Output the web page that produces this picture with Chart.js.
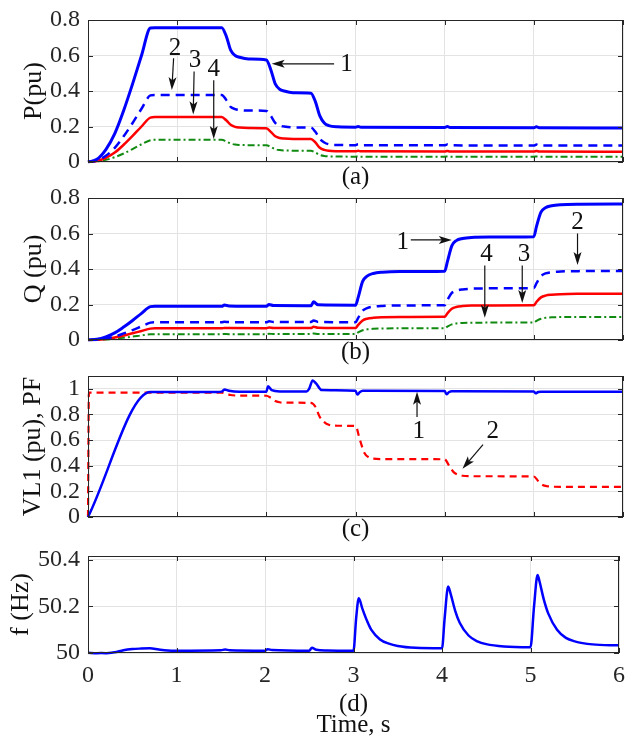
<!DOCTYPE html>
<html>
<head>
<meta charset="utf-8">
<script src="https://cdn.jsdelivr.net/npm/chart.js@4.4.1/dist/chart.umd.min.js"></script>
<style>
    body { margin: 0; background: #fff; }
    #wrap { position: relative; width: 633px; height: 737px; }
    #wrap canvas { position: absolute; left: 0; }
</style>
</head>
<body>
<div id="wrap">
    <canvas id="p_chart" width="633" height="192" style="top:0px"></canvas>
    <canvas id="q_chart" width="633" height="190" style="top:178px"></canvas>
    <canvas id="v_chart" width="633" height="190" style="top:356px"></canvas>
    <canvas id="f_chart" width="633" height="201" style="top:536px"></canvas>
</div>
<script>
// (a) active power
const tP = [0, 0.1, 0.2, 0.3, 0.4, 0.5, 0.6, 0.7, 0.75, 1.5, 1.55, 1.6, 1.65, 1.7, 1.8, 2.0, 2.05, 2.1, 2.15, 2.2, 2.3, 2.5, 2.55, 2.6, 2.65, 2.7, 2.8, 3.0, 3.03, 3.06, 4.0, 4.03, 4.06, 5.0, 5.03, 5.06, 6.0]
const p1 = [0, 0.015, 0.07, 0.16, 0.29, 0.44, 0.6, 0.755, 0.757, 0.757, 0.71, 0.63, 0.6, 0.59, 0.58, 0.575, 0.52, 0.44, 0.41, 0.4, 0.39, 0.388, 0.34, 0.26, 0.22, 0.205, 0.198, 0.196, 0.2, 0.196, 0.194, 0.2, 0.194, 0.193, 0.199, 0.193, 0.192]
const p2 = [0, 0.008, 0.035, 0.08, 0.145, 0.22, 0.3, 0.375, 0.378, 0.378, 0.35, 0.31, 0.298, 0.293, 0.29, 0.288, 0.26, 0.22, 0.205, 0.2, 0.195, 0.194, 0.17, 0.13, 0.11, 0.1, 0.096, 0.095, 0.1, 0.095, 0.094, 0.099, 0.094, 0.093, 0.098, 0.093, 0.093]
const p3 = [0, 0.005, 0.023, 0.053, 0.097, 0.147, 0.2, 0.25, 0.253, 0.253, 0.235, 0.21, 0.198, 0.194, 0.192, 0.19, 0.17, 0.145, 0.135, 0.132, 0.13, 0.13, 0.11, 0.08, 0.068, 0.063, 0.061, 0.06, 0.063, 0.06, 0.059, 0.062, 0.059, 0.059, 0.062, 0.059, 0.058]
const p4 = [0, 0.003, 0.012, 0.027, 0.048, 0.073, 0.1, 0.123, 0.125, 0.125, 0.116, 0.104, 0.098, 0.096, 0.095, 0.094, 0.085, 0.072, 0.067, 0.065, 0.064, 0.063, 0.053, 0.04, 0.034, 0.032, 0.031, 0.03, 0.032, 0.03, 0.03, 0.031, 0.03, 0.03, 0.031, 0.03, 0.03]

// (b) reactive power
const tQ = [0, 0.1, 0.2, 0.3, 0.4, 0.5, 0.6, 0.7, 0.75, 1.5, 1.53, 1.58, 2.0, 2.03, 2.08, 2.5, 2.53, 2.58, 3.0, 3.03, 3.08, 3.13, 3.2, 3.3, 3.5, 4.0, 4.03, 4.08, 4.13, 4.2, 4.3, 4.5, 5.0, 5.03, 5.08, 5.13, 5.2, 5.3, 5.5, 6.0]
const q1 = [0, 0.004, 0.018, 0.04, 0.073, 0.11, 0.15, 0.188, 0.19, 0.19, 0.197, 0.192, 0.19, 0.2, 0.194, 0.193, 0.215, 0.198, 0.196, 0.24, 0.33, 0.36, 0.375, 0.382, 0.386, 0.388, 0.44, 0.53, 0.56, 0.572, 0.578, 0.58, 0.582, 0.64, 0.72, 0.745, 0.756, 0.762, 0.765, 0.766]
const q2 = [0, 0.002, 0.009, 0.02, 0.037, 0.056, 0.077, 0.098, 0.1, 0.1, 0.103, 0.101, 0.1, 0.105, 0.102, 0.101, 0.11, 0.102, 0.1, 0.125, 0.165, 0.18, 0.188, 0.192, 0.195, 0.196, 0.225, 0.265, 0.278, 0.285, 0.289, 0.291, 0.292, 0.32, 0.36, 0.375, 0.382, 0.386, 0.388, 0.389]
const q3 = [0, 0.001, 0.006, 0.014, 0.025, 0.038, 0.051, 0.064, 0.066, 0.066, 0.068, 0.067, 0.066, 0.07, 0.068, 0.067, 0.075, 0.069, 0.067, 0.085, 0.11, 0.12, 0.125, 0.128, 0.13, 0.131, 0.15, 0.176, 0.186, 0.191, 0.194, 0.195, 0.196, 0.215, 0.24, 0.25, 0.255, 0.258, 0.26, 0.261]
const q4 = [0, 0.001, 0.003, 0.007, 0.013, 0.019, 0.026, 0.032, 0.033, 0.033, 0.034, 0.033, 0.033, 0.035, 0.034, 0.034, 0.037, 0.034, 0.034, 0.043, 0.055, 0.06, 0.063, 0.065, 0.066, 0.066, 0.075, 0.088, 0.093, 0.096, 0.097, 0.098, 0.098, 0.108, 0.12, 0.125, 0.128, 0.129, 0.13, 0.13]

// (c) voltage VL1 and power factor
const tV = [0, 0.7, 0.75, 1.45, 1.5, 1.53, 1.58, 1.7, 2.0, 2.02, 2.06, 2.15, 2.45, 2.48, 2.52, 2.56, 2.62, 3.0, 3.02, 3.05, 3.08, 4.0, 4.02, 4.05, 4.08, 5.0, 5.02, 5.05, 5.08, 6.0]
const vl1 = [0, 0.975, 0.975, 0.975, 0.978, 0.995, 0.985, 0.978, 0.978, 1.02, 0.99, 0.98, 0.98, 1.0, 1.065, 1.04, 0.99, 0.985, 0.955, 0.975, 0.985, 0.983, 0.958, 0.975, 0.982, 0.98, 0.965, 0.975, 0.978, 0.978]
const tF = [0, 0.01, 1.5, 1.55, 1.6, 1.65, 1.7, 2.0, 2.05, 2.1, 2.15, 2.2, 2.5, 2.55, 2.6, 2.65, 2.7, 2.8, 3.0, 3.05, 3.1, 3.15, 3.2, 3.3, 4.0, 4.05, 4.1, 4.15, 4.2, 4.3, 5.0, 5.05, 5.1, 5.15, 5.2, 5.3, 6.0]
const pf = [0, 0.97, 0.97, 0.962, 0.952, 0.948, 0.947, 0.946, 0.93, 0.905, 0.895, 0.892, 0.89, 0.86, 0.78, 0.74, 0.72, 0.712, 0.71, 0.6, 0.5, 0.465, 0.455, 0.452, 0.45, 0.4, 0.35, 0.33, 0.322, 0.318, 0.316, 0.28, 0.25, 0.24, 0.237, 0.235, 0.235]

// (d) frequency
const tf = [0, 0.1, 0.2, 0.3, 0.4, 0.5, 0.6, 0.7, 0.8, 0.9, 1.0, 1.5, 1.55, 1.6, 2.0, 2.03, 2.08, 2.5, 2.53, 2.58, 2.7, 3.0, 3.03, 3.06, 3.1, 3.15, 3.2, 3.3, 3.4, 3.5, 3.7, 4.0, 4.03, 4.07, 4.1, 4.15, 4.2, 4.3, 4.4, 4.5, 4.7, 5.0, 5.04, 5.08, 5.1, 5.15, 5.2, 5.3, 5.4, 5.5, 5.7, 6.0]
const freq = [50.001, 49.999, 49.999, 50.003, 50.012, 50.017, 50.019, 50.02, 50.015, 50.011, 50.01, 50.012, 50.015, 50.012, 50.01, 50.016, 50.013, 50.01, 50.022, 50.014, 50.011, 50.01, 50.15, 50.235, 50.19, 50.14, 50.1, 50.058, 50.04, 50.03, 50.022, 50.02, 50.15, 50.285, 50.25, 50.18, 50.13, 50.075, 50.05, 50.038, 50.028, 50.025, 50.2, 50.335, 50.31, 50.23, 50.17, 50.1, 50.065, 50.05, 50.037, 50.033]

const timeTicks = [0, 1, 2, 3, 4, 5, 6]

// arrow notes, in data units of each panel
const notesP = [
    { text: '1', lx: 2.9, ly: 0.55, x0: 2.76, y0: 0.553, x1: 2.06, y1: 0.553 },
    { text: '2', lx: 0.975, ly: 0.64, x0: 0.96, y0: 0.585, x1: 0.94, y1: 0.405 },
    { text: '3', lx: 1.2, ly: 0.57, x0: 1.19, y0: 0.51, x1: 1.18, y1: 0.268 },
    { text: '4', lx: 1.41, ly: 0.52, x0: 1.41, y0: 0.46, x1: 1.41, y1: 0.13 }
]
const notesQ = [
    { text: '1', lx: 3.53, ly: 0.55, x0: 3.62, y0: 0.564, x1: 4.08, y1: 0.564 },
    { text: '4', lx: 4.47, ly: 0.48, x0: 4.45, y0: 0.42, x1: 4.45, y1: 0.126 },
    { text: '3', lx: 4.89, ly: 0.48, x0: 4.87, y0: 0.42, x1: 4.87, y1: 0.208 },
    { text: '2', lx: 5.49, ly: 0.66, x0: 5.49, y0: 0.6, x1: 5.49, y1: 0.422 }
]
const notesV = [
    { text: '1', lx: 3.71, ly: 0.67, x0: 3.69, y0: 0.78, x1: 3.69, y1: 0.977 },
    { text: '2', lx: 4.54, ly: 0.67, x0: 4.43, y0: 0.564, x1: 4.2, y1: 0.376 }
]

const FONT = '"Liberation Serif", "DejaVu Serif", serif'
const INK = '#262626'
Chart.defaults.font.family = FONT
Chart.defaults.color = INK

function pts(xs, ys){
    return xs.map((x, i) => ({ x: x, y: ys[i] }))
}

function fmt(v){
    return String(Math.round(v * 100) / 100)
}

const boxPlugin = {
    id: 'box',
    afterDraw(chart){
        const ctx = chart.ctx
        const a = chart.chartArea
        const sx = chart.scales.x
        const sy = chart.scales.y
        ctx.save()
        ctx.strokeStyle = INK
        ctx.lineWidth = 1
        ctx.strokeRect(a.left + 0.5, a.top + 0.5, a.right - a.left - 1, a.bottom - a.top - 1)
        ctx.beginPath()
        for(const t of sx.ticks){
            const px = Math.round(sx.getPixelForValue(t.value)) + 0.5
            ctx.moveTo(px, a.bottom); ctx.lineTo(px, a.bottom - 5)
            ctx.moveTo(px, a.top); ctx.lineTo(px, a.top + 5)
        }
        for(const t of sy.ticks){
            const py = Math.round(sy.getPixelForValue(t.value)) + 0.5
            ctx.moveTo(a.left, py); ctx.lineTo(a.left + 5, py)
            ctx.moveTo(a.right, py); ctx.lineTo(a.right - 5, py)
        }
        ctx.stroke()
        ctx.restore()
    }
}

function notesPlugin(notes){
    return {
        id: 'notes',
        afterDraw(chart){
            const ctx = chart.ctx
            const sx = chart.scales.x
            const sy = chart.scales.y
            ctx.save()
            ctx.strokeStyle = '#111'
            ctx.fillStyle = '#111'
            ctx.lineWidth = 1.2
            ctx.font = '25px ' + FONT
            ctx.textAlign = 'center'
            ctx.textBaseline = 'middle'
            for(const n of notes){
                ctx.fillText(n.text, sx.getPixelForValue(n.lx), sy.getPixelForValue(n.ly))
                const x0 = sx.getPixelForValue(n.x0), y0 = sy.getPixelForValue(n.y0)
                const x1 = sx.getPixelForValue(n.x1), y1 = sy.getPixelForValue(n.y1)
                const ang = Math.atan2(y1 - y0, x1 - x0)
                const c = Math.cos(ang), s = Math.sin(ang)
                ctx.beginPath()
                ctx.moveTo(x0, y0)
                ctx.lineTo(x1 - 9 * c, y1 - 9 * s)
                ctx.stroke()
                ctx.beginPath()
                ctx.moveTo(x1, y1)
                ctx.lineTo(x1 - 13 * c + 4 * s, y1 - 13 * s - 4 * c)
                ctx.lineTo(x1 - 10 * c, y1 - 10 * s)
                ctx.lineTo(x1 - 13 * c - 4 * s, y1 - 13 * s + 4 * c)
                ctx.closePath()
                ctx.fill()
            }
            ctx.restore()
        }
    }
}

function line(label, data, color, width, dash, clip){
    return {
        label: label,
        data: data,
        borderColor: color,
        borderWidth: width,
        borderDash: dash || [],
        pointRadius: 0,
        fill: false,
        clip: clip === undefined ? width / 2 : clip,
        cubicInterpolationMode: 'monotone'
    }
}

function makeChart(id, datasets, cfg){
    const canvas = document.getElementById(id)
    const H = canvas.height
    return new Chart(canvas, {
        type: 'line',
        data: { datasets: datasets },
        options: {
            responsive: false,
            animation: false,
            events: [],
            layout: { padding: { top: cfg.top, right: 10, left: 0, bottom: 0 } },
            plugins: { legend: { display: false }, tooltip: { enabled: false } },
            scales: {
                x: {
                    type: 'linear', min: 0, max: 6,
                    afterBuildTicks: (s) => { s.ticks = timeTicks.map(v => ({ value: v })) },
                    afterFit: (s) => { s.height = H - cfg.bottom },
                    grid: { color: '#e3e3e3', drawTicks: false },
                    border: { display: false },
                    ticks: { display: cfg.xLabels, autoSkip: false, maxRotation: 0, padding: 8, font: { size: 24 }, color: INK },
                    title: {
                        display: true, text: cfg.xTitle,
                        font: { size: 25, lineHeight: cfg.xTitleLH },
                        padding: { top: 0, bottom: cfg.xTitlePad }, color: '#111'
                    }
                },
                y: {
                    min: cfg.yMin, max: cfg.yMax,
                    afterBuildTicks: (s) => { s.ticks = cfg.yTicks.map(v => ({ value: v })) },
                    afterFit: (s) => { s.width = 88 },
                    grid: { color: '#e3e3e3', drawTicks: false },
                    border: { display: false },
                    ticks: { autoSkip: false, padding: 8, font: { size: 24, lineHeight: 1 }, color: INK, callback: fmt },
                    title: {
                        display: true, text: cfg.yTitle,
                        font: { size: 26, lineHeight: 1 },
                        padding: { top: cfg.yTitlePad, bottom: 0 }, color: '#111'
                    }
                }
            }
        },
        plugins: [boxPlugin, notesPlugin(cfg.notes)]
    })
}

const blue = '#0000ff'
const red = '#ff0000'
const green = '#118a11'

makeChart('p_chart', [
    line('1', pts(tP, p1), blue, 3),
    line('2', pts(tP, p2), blue, 2.5, [9, 6]),
    line('3', pts(tP, p3), red, 2.5),
    line('4', pts(tP, p4), green, 2, [7, 3, 2, 3])
], { top: 16, bottom: 162, xLabels: false, xTitle: '(a)', xTitleLH: 1, xTitlePad: 2,
     yMin: 0, yMax: 0.8, yTicks: [0, 0.2, 0.4, 0.6, 0.8], yTitle: 'P(pu)', yTitlePad: 21, notes: notesP })

makeChart('q_chart', [
    line('1', pts(tQ, q1), blue, 3),
    line('2', pts(tQ, q2), blue, 2.5, [9, 6]),
    line('3', pts(tQ, q3), red, 2.5),
    line('4', pts(tQ, q4), green, 2, [7, 3, 2, 3])
], { top: 16, bottom: 162, xLabels: false, xTitle: '(b)', xTitleLH: 1, xTitlePad: 3,
     yMin: 0, yMax: 0.8, yTicks: [0, 0.2, 0.4, 0.6, 0.8], yTitle: 'Q (pu)', yTitlePad: 21, notes: notesQ })

makeChart('v_chart', [
    line('VL1', pts(tV, vl1), blue, 2.5),
    line('PF', pts(tF, pf), red, 2.2, [7, 5], false)
], { top: 15, bottom: 161, xLabels: false, xTitle: '(c)', xTitleLH: 1, xTitlePad: 4,
     yMin: 0, yMax: 1.1, yTicks: [0, 0.2, 0.4, 0.6, 0.8, 1], yTitle: 'VL1 (pu), PF', yTitlePad: 20, notes: notesV })

makeChart('f_chart', [
    line('f', pts(tf, freq), blue, 2.5, [], 3)
], { top: 14, bottom: 117, xLabels: true, xTitle: ['(d)', 'Time, s'], xTitleLH: 0.85, xTitlePad: 1,
     yMin: 50, yMax: 50.416, yTicks: [50, 50.2, 50.4], yTitle: 'f (Hz)', yTitlePad: 8, notes: [] })
</script>
</body>
</html>
